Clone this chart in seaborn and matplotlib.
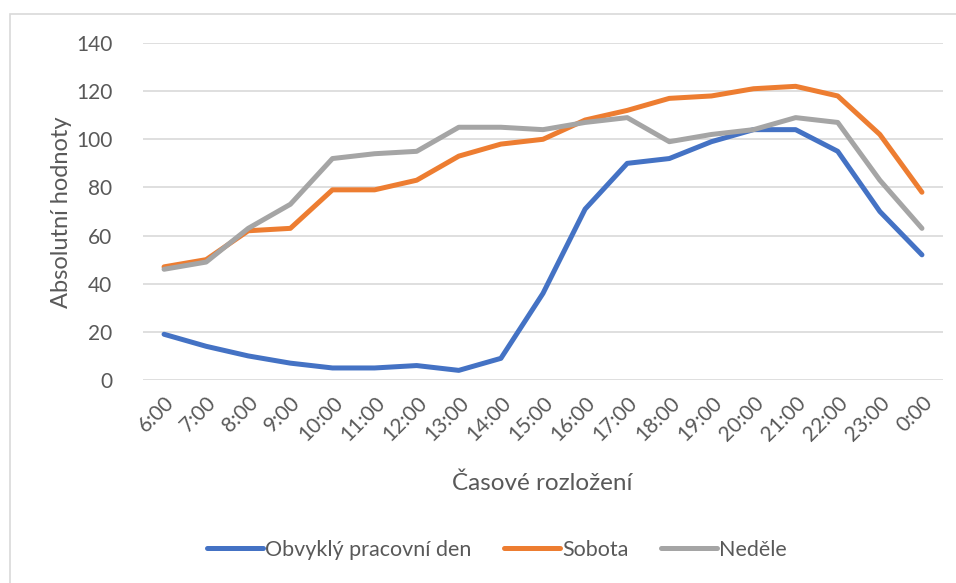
import pandas as pd
import seaborn as sns
import matplotlib.pyplot as plt
from matplotlib.patches import Rectangle

# Hodiny a hodnoty
hours = ["6:00", "7:00", "8:00", "9:00", "10:00", "11:00", "12:00", "13:00", "14:00",
         "15:00", "16:00", "17:00", "18:00", "19:00", "20:00", "21:00", "22:00",
         "23:00", "0:00"]
weekday = [19, 14, 10, 7, 5, 5, 6, 4, 9, 36, 71, 90, 92, 99, 104, 104, 95, 70, 52]
saturday = [47, 50, 62, 63, 79, 79, 83, 93, 98, 100, 108, 112, 117, 118, 121, 122, 118, 102, 78]
sunday = [46, 49, 63, 73, 92, 94, 95, 105, 105, 104, 107, 109, 99, 102, 104, 109, 107, 83, 63]

series_names = ["Obvyklý pracovní den", "Sobota", "Neděle"]
colors = ["#4472C4", "#ED7D31", "#A5A5A5"]

df = pd.DataFrame({
    "pos": list(range(len(hours))) * 3,
    "value": weekday + saturday + sunday,
    "series": [s for s in series_names for _ in hours],
})

sns.set_theme(style="white")
plt.rcParams["font.family"] = ["Lato", "DejaVu Sans"]

fig = plt.figure(figsize=(9.56, 5.83), dpi=100)
ax = fig.add_axes([143 / 956, 1 - 380 / 583, (943 - 143) / 956, (380 - 43) / 583])

sns.lineplot(data=df, x="pos", y="value", hue="series", hue_order=series_names,
             palette=colors, linewidth=3.6, ax=ax, legend=True, zorder=3)
for line in ax.get_lines():
    line.set_solid_capstyle("round")
    line.set_solid_joinstyle("round")

ax.set_xlim(-0.5, len(hours) - 0.5)
ax.set_ylim(0, 140)
ax.set_yticks(range(0, 141, 20))
ax.set_xticks(range(len(hours)))
ax.set_xticklabels(hours, rotation=45, ha="right", rotation_mode="anchor")
ax.tick_params(axis="both", colors="#595959", labelsize=15, length=0)
ax.tick_params(axis="x", pad=9)
ax.tick_params(axis="y", pad=22)
ax.yaxis.grid(True, color="#D9D9D9", linewidth=1.2)
ax.set_axisbelow(True)
for sp in ax.spines.values():
    sp.set_visible(False)

ax.set_xlabel("Časové rozložení", fontsize=17.5, color="#595959")
ax.set_ylabel("Absolutní hodnoty", fontsize=17, color="#595959")
ax.xaxis.set_label_coords(542 / 956, 1 - 483 / 583, transform=fig.transFigure)
ax.yaxis.set_label_coords(62 / 956, 1 - 212 / 583, transform=fig.transFigure)
ax.xaxis.label.set_va("center")
ax.yaxis.label.set_va("center")

handles, labels = ax.get_legend_handles_labels()
ax.legend(handles, labels, loc="center", bbox_to_anchor=(497 / 956, 1 - 550 / 583),
          bbox_transform=fig.transFigure, ncol=3, frameon=False, fontsize=15.5,
          labelcolor="#595959", handlelength=2.6, handletextpad=0.1, columnspacing=1.5)

# Rámeček grafu
fig.patches.append(Rectangle((10 / 956, -0.1), 1.2, 1 - 14 / 583 + 0.1,
                             transform=fig.transFigure, fill=False,
                             edgecolor="#D9D9D9", linewidth=1.2, zorder=0))

fig.savefig("out.png", dpi=100)
